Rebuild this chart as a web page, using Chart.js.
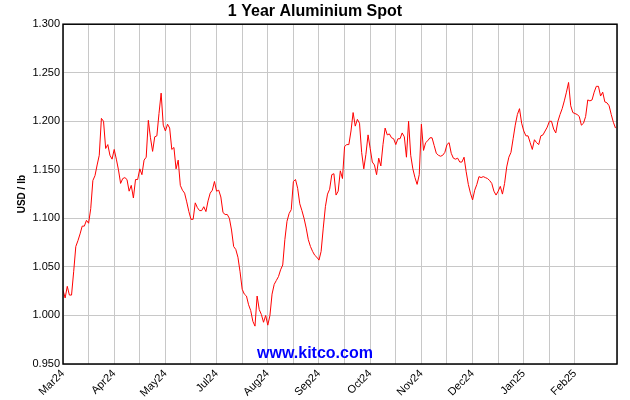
<!DOCTYPE html>
<html>
<head>
<meta charset="utf-8">
<script src="https://cdn.jsdelivr.net/npm/chart.js@4.4.1/dist/chart.umd.min.js"></script>
<style>
  html, body { margin: 0; padding: 0; background: #fff; }
  canvas { display: block; }
</style>
</head>
<body>
<canvas id="grafica" width="630" height="400"></canvas>
<script>
// month labels, one every 24 trading days (kitco skips Jun)
const etiquetas = ["Mar24", "Apr24", "May24", "Jul24", "Aug24", "Sep24", "Oct24", "Nov24", "Dec24", "Jan25", "Feb25"];
const yTicks = [0.95, 1.00, 1.05, 1.10, 1.15, 1.20, 1.25, 1.30];

// daily spot price, USD / lb
const precios = [
  1.026, 1.018, 1.030, 1.021, 1.021, 1.045, 1.071, 1.077, 1.084, 1.092,
  1.092, 1.098, 1.095, 1.110, 1.139, 1.144, 1.155, 1.165, 1.203, 1.200,
  1.172, 1.176, 1.165, 1.161, 1.171, 1.161, 1.150, 1.136, 1.141, 1.142,
  1.140, 1.128, 1.134, 1.121, 1.140, 1.140, 1.151, 1.145, 1.160, 1.163,
  1.201, 1.183, 1.169, 1.184, 1.185, 1.208, 1.229, 1.196, 1.190, 1.197,
  1.193, 1.171, 1.173, 1.151, 1.160, 1.134, 1.129, 1.126, 1.117, 1.107,
  1.099, 1.099, 1.116, 1.111, 1.108, 1.108, 1.112, 1.107, 1.118, 1.126,
  1.129, 1.138, 1.128, 1.129, 1.122, 1.106, 1.104, 1.104, 1.100, 1.088,
  1.071, 1.068, 1.060, 1.045, 1.027, 1.022, 1.020, 1.011, 1.005, 0.994,
  0.989, 1.020, 1.006, 1.001, 0.993, 1.000, 0.990, 1.000, 1.022, 1.032,
  1.036, 1.040, 1.047, 1.052, 1.078, 1.097, 1.105, 1.109, 1.138, 1.140,
  1.131, 1.115, 1.108, 1.100, 1.090, 1.078, 1.071, 1.066, 1.062, 1.060,
  1.057, 1.066, 1.090, 1.112, 1.125, 1.130, 1.145, 1.146, 1.124, 1.128,
  1.149, 1.141, 1.174, 1.176, 1.176, 1.190, 1.209, 1.195, 1.202, 1.198,
  1.168, 1.151, 1.166, 1.186, 1.172, 1.158, 1.155, 1.145, 1.162, 1.154,
  1.176, 1.193, 1.186, 1.187, 1.183, 1.182, 1.176, 1.182, 1.182, 1.188,
  1.184, 1.163, 1.200, 1.165, 1.151, 1.142, 1.135, 1.145, 1.197, 1.170,
  1.178, 1.180, 1.183, 1.183, 1.175, 1.167, 1.165, 1.164, 1.165, 1.168,
  1.176, 1.178, 1.167, 1.162, 1.161, 1.162, 1.158, 1.158, 1.163, 1.148,
  1.135, 1.126, 1.119, 1.129, 1.135, 1.143, 1.142, 1.143, 1.142, 1.141,
  1.139, 1.136, 1.128, 1.124, 1.128, 1.133, 1.125, 1.136, 1.153, 1.163,
  1.168, 1.182, 1.196, 1.207, 1.213, 1.198, 1.190, 1.185, 1.185, 1.178,
  1.171, 1.181, 1.178, 1.176, 1.185, 1.186, 1.190, 1.194, 1.200, 1.200,
  1.192, 1.188, 1.200, 1.207, 1.213, 1.221, 1.230, 1.240, 1.216, 1.209,
  1.208, 1.207, 1.205, 1.196, 1.198, 1.205, 1.222, 1.221, 1.222, 1.230,
  1.236, 1.236, 1.226, 1.230, 1.220, 1.219, 1.216, 1.207, 1.199, 1.193
];

const FUENTE = '"Liberation Sans", Arial, sans-serif';
const diasPorMes = 24;

// frame round the plot and the kitco watermark
const marco = {
  id: 'marco',
  afterDraw(chart) {
    const { ctx, chartArea: a } = chart;
    ctx.save();
    ctx.strokeStyle = '#000';
    ctx.lineWidth = 1.5;
    ctx.strokeRect(a.left, a.top, a.right - a.left, a.bottom - a.top);
    ctx.fillStyle = '#0000ff';
    ctx.font = 'bold 16px ' + FUENTE;
    ctx.textAlign = 'center';
    ctx.textBaseline = 'alphabetic';
    ctx.fillText('www.kitco.com', chart.width / 2, a.bottom - 6);
    ctx.restore();
  }
};

new Chart(document.getElementById('grafica'), {
  type: 'line',
  data: {
    datasets: [{
      data: precios.map((v, i) => ({ x: i, y: v })),
      borderColor: '#ff0000',
      borderWidth: 1,
      pointRadius: 0,
      tension: 0,
      fill: false
    }]
  },
  options: {
    responsive: false,
    animation: false,
    layout: { padding: { left: 13, right: 13 } },
    plugins: {
      legend: { display: false },
      tooltip: { enabled: false },
      title: {
        display: true,
        text: '1 Year Aluminium Spot',
        color: '#000',
        font: { family: FUENTE, size: 16, weight: 'bold' },
        padding: { top: 2, bottom: 3 }
      }
    },
    scales: {
      x: {
        type: 'linear',
        min: 0,
        max: 259.7,
        border: { display: false },
        grid: { color: '#c8c8c8', lineWidth: 1, drawTicks: false },
        ticks: {
          stepSize: diasPorMes / 2,
          autoSkip: false,
          minRotation: 45,
          maxRotation: 45,
          padding: 3,
          color: '#000',
          font: { family: FUENTE, size: 11 },
          callback: (v) => (v % diasPorMes === 0 ? etiquetas[v / diasPorMes] || '' : '')
        },
        afterFit: (s) => { s.height = 36; }
      },
      y: {
        min: yTicks[0],
        max: yTicks[yTicks.length - 1],
        border: { display: false },
        grid: { color: '#c8c8c8', lineWidth: 1, drawTicks: false },
        ticks: {
          stepSize: 0.05,
          padding: 3,
          color: '#000',
          font: { family: FUENTE, size: 11 },
          callback: (v) => v.toFixed(3)
        },
        title: {
          display: true,
          text: 'USD / lb',
          color: '#000',
          font: { family: FUENTE, size: 10, weight: 'bold' },
          padding: { top: 3, bottom: 0 }
        },
        afterFit: (s) => { s.width = 50; }
      }
    }
  },
  plugins: [marco]
});
</script>
</body>
</html>
